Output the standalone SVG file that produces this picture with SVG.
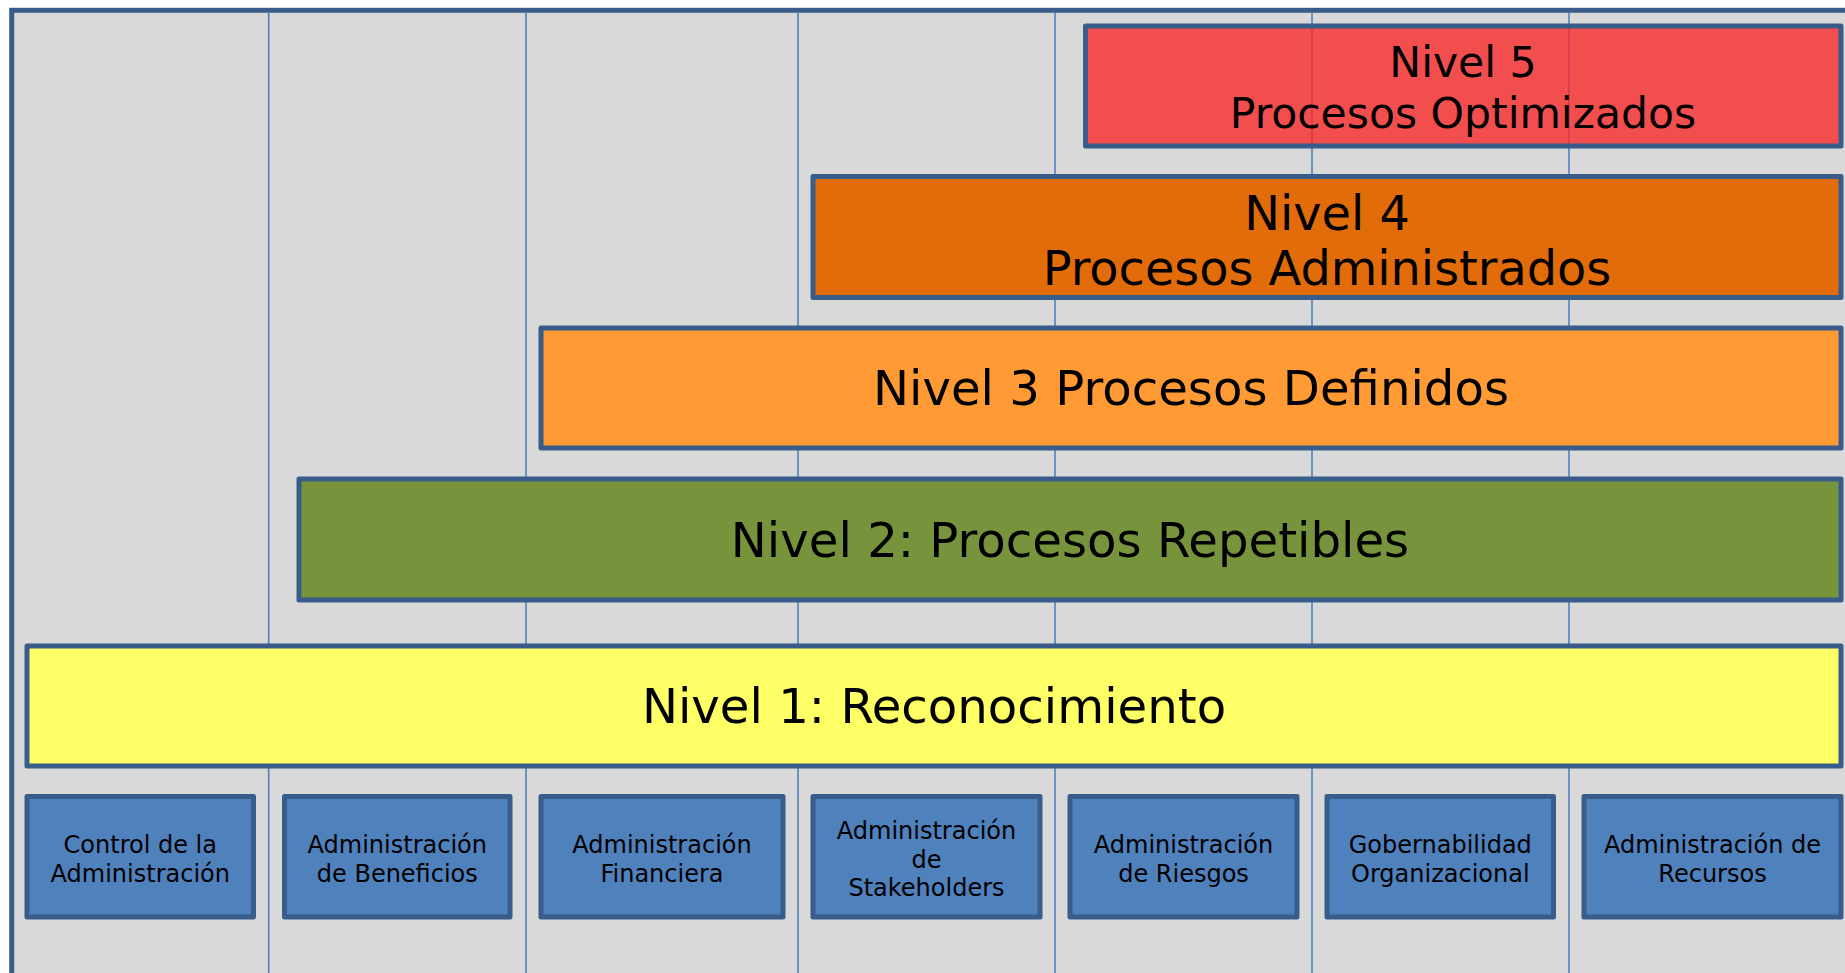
<svg xmlns="http://www.w3.org/2000/svg" width="1845" height="973" viewBox="0 0 1845 973">
  <style>
    .frame { fill: #d9d9d9; stroke: #385d8a; stroke-width: 5; }
    .grid line { stroke: #4f81bd; stroke-width: 1.6; }
    .lvl { stroke: #385d8a; stroke-width: 5; stroke-linejoin: round; }
    .area rect { fill: #4f81bd; stroke: #385d8a; stroke-width: 5; stroke-linejoin: round; }
    text { font-family: "DejaVu Sans", Verdana, sans-serif; fill: #000; text-anchor: middle; }
    .big { font-size: 48.2px; }
    .lv4 { font-size: 47.8px; }
    .mid { font-size: 42.5px; }
    .small { font-size: 24px; }
  </style>

  <rect x="0" y="0" width="1845" height="973" fill="#ffffff"/>
  <!-- outer frame, open to the right and bottom -->
  <rect class="frame" x="11.7" y="10.3" width="2000" height="1100"/>

  <!-- column separators -->
  <g id="connectors" class="grid">
    <line x1="268.7" y1="12.8" x2="268.7" y2="973"/>
    <line x1="526" y1="12.8" x2="526" y2="973"/>
    <line x1="798" y1="12.8" x2="798" y2="973"/>
    <line x1="1055" y1="12.8" x2="1055" y2="973"/>
    <line x1="1312" y1="12.8" x2="1312" y2="973"/>
    <line x1="1569" y1="12.8" x2="1569" y2="973"/>
  </g>

  <!-- maturity levels -->
  <g id="nivel1">
    <rect class="lvl" x="27" y="646" width="1814" height="120" fill="#ffff66"/>
    <text class="big" x="934" y="723">Nivel 1: Reconocimiento</text>
  </g>
  <g id="nivel2">
    <rect class="lvl" x="299" y="479" width="1542" height="121" fill="#77933c"/>
    <text class="big" x="1070" y="556.5">Nivel 2: Procesos Repetibles</text>
  </g>
  <g id="nivel3">
    <rect class="lvl" x="541" y="328" width="1300" height="120" fill="#ff9a35"/>
    <text class="big" x="1191" y="405">Nivel 3 Procesos Definidos</text>
  </g>
  <g id="nivel4">
    <rect class="lvl" x="813" y="176.5" width="1028" height="121" fill="#e36c0a"/>
    <text class="lv4" x="1327" y="229.5">Nivel 4</text>
    <text class="lv4" x="1327" y="285">Procesos Administrados</text>
  </g>
  <g id="nivel5">
    <rect class="lvl" x="1085.5" y="26" width="755.5" height="120" fill="#f82b2b" fill-opacity="0.8"/>
    <text class="mid" x="1463" y="77">Nivel 5</text>
    <text class="mid" x="1463" y="128">Procesos Optimizados</text>
  </g>

  <!-- process areas -->
  <g id="area1" class="area">
    <rect x="27" y="796.5" width="226.5" height="120.5"/>
    <text class="small" x="140.3" y="853">Control de la</text>
    <text class="small" x="140.3" y="882">Administración</text>
  </g>
  <g id="area2" class="area">
    <rect x="284.5" y="796.5" width="225.5" height="120.5"/>
    <text class="small" x="397.3" y="853">Administración</text>
    <text class="small" x="397.3" y="882">de Beneficios</text>
  </g>
  <g id="area3" class="area">
    <rect x="541" y="796.5" width="242" height="120.5"/>
    <text class="small" x="662" y="853">Administración</text>
    <text class="small" x="662" y="882">Financiera</text>
  </g>
  <g id="area4" class="area">
    <rect x="813" y="796.5" width="227" height="120.5"/>
    <text class="small" x="926.5" y="838.5">Administración</text>
    <text class="small" x="926.5" y="867.5">de</text>
    <text class="small" x="926.5" y="896">Stakeholders</text>
  </g>
  <g id="area5" class="area">
    <rect x="1070" y="796.5" width="227" height="120.5"/>
    <text class="small" x="1183.5" y="853">Administración</text>
    <text class="small" x="1183.5" y="882">de Riesgos</text>
  </g>
  <g id="area6" class="area">
    <rect x="1327" y="796.5" width="226.5" height="120.5"/>
    <text class="small" x="1440.3" y="853">Gobernabilidad</text>
    <text class="small" x="1440.3" y="882">Organizacional</text>
  </g>
  <g id="area7" class="area">
    <rect x="1584" y="796.5" width="257" height="120.5"/>
    <text class="small" x="1712.5" y="853">Administración de</text>
    <text class="small" x="1712.5" y="882">Recursos</text>
  </g>
</svg>
